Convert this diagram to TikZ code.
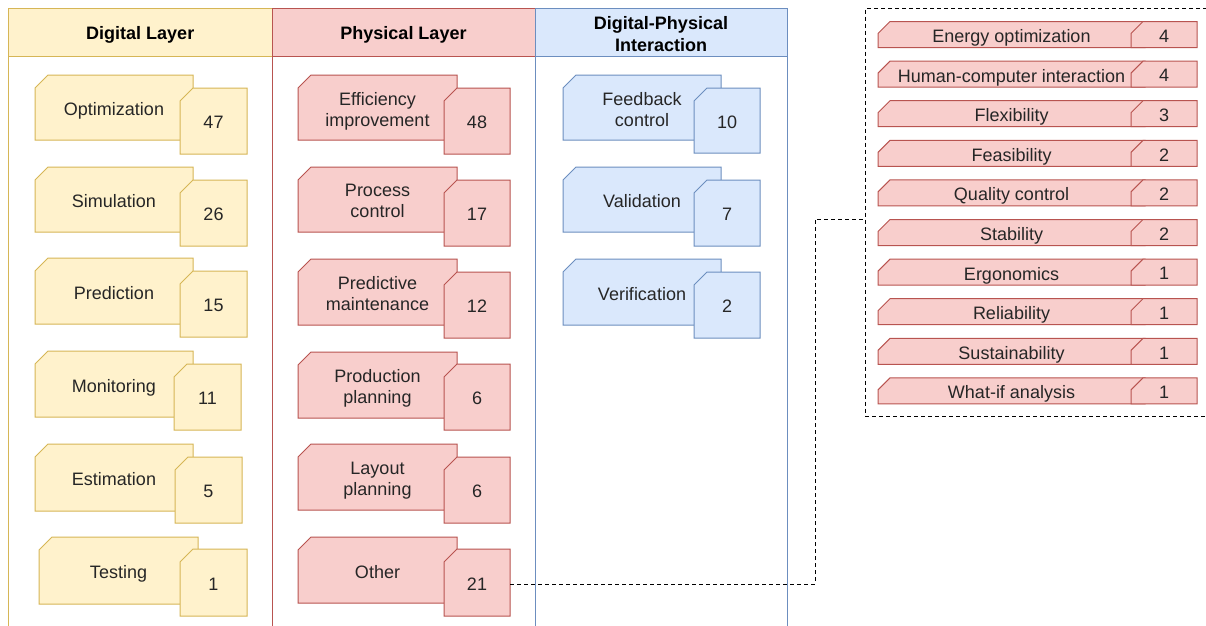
\documentclass[tikz,border=0pt]{standalone}
\usepackage{fontspec}
\setmainfont{Liberation Sans}
\definecolor{yF}{HTML}{FFF2CC}
\definecolor{yD}{HTML}{D6B656}
\definecolor{rF}{HTML}{F8CECC}
\definecolor{rD}{HTML}{B85450}
\definecolor{bF}{HTML}{DAE8FC}
\definecolor{bD}{HTML}{6C8EBF}
\definecolor{txt}{HTML}{262626}
% #1 name, #2 x1, #3 y1, #4 x2, #5 y2, #6 cut, #7 style, #8 text
\newcommand{\cbox}[8]{%
  \path[box,#7] ({#2},{(#3)+(#6)}) -- ({(#2)+(#6)},{#3}) -- ({#4},{#3}) -- ({#4},{#5}) -- ({#2},{#5}) -- cycle;
  \node[lbl,minimum width={(#4)-(#2)},minimum height={(#5)-(#3)}] (#1) at ({((#2)+(#4))/2},{((#3)+(#5))/2}) {#8};
}
\begin{document}
\begin{tikzpicture}[x=1pt,y=-1pt,
  box/.style={line width=1pt},
  Y/.style={fill=yF,draw=yD},
  R/.style={fill=rF,draw=rD},
  B/.style={fill=bF,draw=bD},
  lbl/.style={inner sep=0pt,outer sep=0pt,align=center,text=txt,font=\fontsize{18}{21}\selectfont,text depth=0pt,yshift=-1.5pt},
  hdr/.style={inner sep=0pt,outer sep=0pt,align=center,line width=1pt,text=black,font=\fontsize{18}{22}\selectfont\bfseries,minimum height=47.5},
  hdrtext/.style={inner sep=0pt,outer sep=0pt,align=center,text=black,font=\fontsize{18}{22}\selectfont\bfseries,text depth=0pt},
  colbody/.style={inner sep=0pt,outer sep=0pt,line width=1pt,fill=white,minimum height=580,anchor=north},
  conn/.style={line width=1pt,dash pattern=on 4pt off 3pt}]
\useasboundingbox (0,0) rectangle (1206,625);
% columns
\node[colbody,draw=yD,minimum width=263.5] (cdig) at (140.25,56) {};
\node[colbody,draw=rD,minimum width=263] (cphy) at (403.5,56) {};
\node[colbody,draw=bD,minimum width=252] (cdpi) at (661,56) {};
\node[hdr,fill=yF,draw=yD,minimum width=263.5] (hdig) at (140.25,32.25) {};
\node[hdr,fill=rF,draw=rD,minimum width=263] (hphy) at (403.5,32.25) {};
\node[hdr,fill=bF,draw=bD,minimum width=252] (hdpi) at (661,32.25) {};
\node[hdrtext] (tdig) at (140.25,33) {Digital Layer};
\node[hdrtext] (tphy) at (403.5,33) {Physical Layer};
\node[hdrtext] (tdpi) at (661,33.5) {Digital-Physical\\Interaction};
% digital layer
\cbox{d1}{35}{75}{193}{140}{13}{Y}{Optimization}
\cbox{d1n}{180}{88}{247}{154}{13}{Y}{47}
\cbox{d2}{35}{167}{193}{232}{13}{Y}{Simulation}
\cbox{d2n}{180}{180}{247}{246}{13}{Y}{26}
\cbox{d3}{35}{258}{193}{324}{13}{Y}{Prediction}
\cbox{d3n}{180}{271}{247}{337}{13}{Y}{15}
\cbox{d4}{35}{351}{193}{417}{13}{Y}{Monitoring}
\cbox{d4n}{174}{364}{241}{430}{13}{Y}{11}
\cbox{d5}{35}{444}{193}{511}{13}{Y}{Estimation}
\cbox{d5n}{175}{457}{242}{523}{13}{Y}{5}
\cbox{d6}{39}{537}{198}{604}{13}{Y}{Testing}
\cbox{d6n}{180}{549}{247}{616}{13}{Y}{1}
% physical layer
\cbox{p1}{298}{75}{457}{140}{13}{R}{Efficiency\\improvement}
\cbox{p1n}{444}{88}{510}{154}{13}{R}{48}
\cbox{p2}{298}{167}{457}{232}{13}{R}{Process\\control}
\cbox{p2n}{444}{180}{510}{246}{13}{R}{17}
\cbox{p3}{298}{259}{457}{325}{13}{R}{Predictive\\maintenance}
\cbox{p3n}{444}{272}{510}{338}{13}{R}{12}
\cbox{p4}{298}{352}{457}{418}{13}{R}{Production\\planning}
\cbox{p4n}{444}{364}{510}{430}{13}{R}{6}
\cbox{p5}{298}{444}{457}{510}{13}{R}{Layout\\planning}
\cbox{p5n}{444}{457}{510}{523}{13}{R}{6}
\cbox{p6}{298}{537}{457}{603}{13}{R}{Other}
\cbox{p6n}{444}{549}{510}{616}{13}{R}{21}
% digital-physical interaction
\cbox{i1}{563}{75}{721}{140}{13}{B}{Feedback\\control}
\cbox{i1n}{694}{88}{760}{153}{13}{B}{10}
\cbox{i2}{563}{167}{721}{232}{13}{B}{Validation}
\cbox{i2n}{694}{180}{760}{246}{13}{B}{7}
\cbox{i3}{563}{259}{721}{325}{13}{B}{Verification}
\cbox{i3n}{694}{272}{760}{338}{13}{B}{2}
% others list
\node[draw=black,conn,inner sep=0pt,outer sep=0pt,minimum width=345,minimum height=408,anchor=north west] (others) at (865,8.5) {};
\foreach \t/\n [count=\i] in {Energy optimization/4,Human-computer interaction/4,Flexibility/3,Feasibility/2,Quality control/2,Stability/2,Ergonomics/1,Reliability/1,Sustainability/1,What-if analysis/1}{
  \pgfmathsetmacro\yc{34.5+39.6*(\i-1)}
  \cbox{r\i}{878}{\yc-13}{1145}{\yc+13}{12}{R}{\t}
  \cbox{rn\i}{1131}{\yc-13}{1197}{\yc+13}{12}{R}{\n}
}
\coordinate (lk) at (865,219);
\draw[conn] (p6n.east) -- ++(305,0) |- (lk);
\end{tikzpicture}
\end{document}
